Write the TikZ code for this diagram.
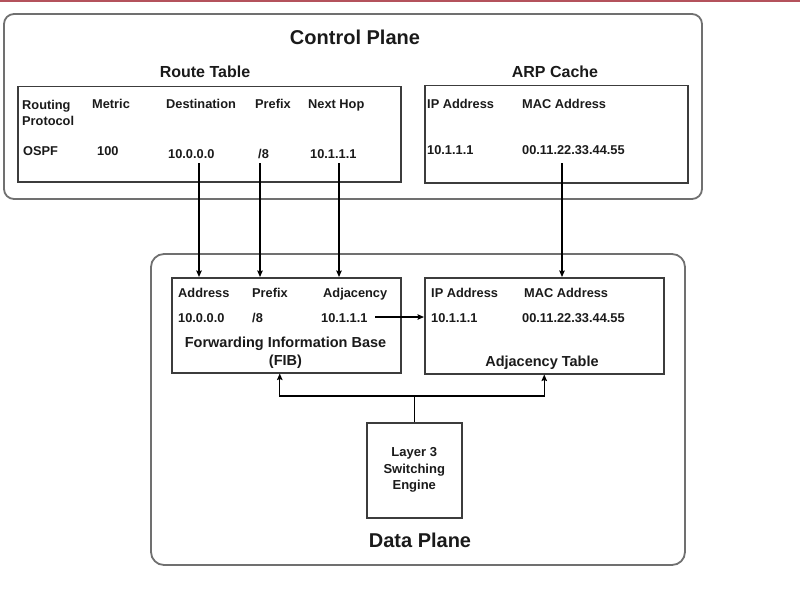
\documentclass[tikz,border=0pt]{standalone}
\usepackage{fontspec}
\setmainfont{Liberation Sans}
\usetikzlibrary{arrows.meta}
\definecolor{topred}{HTML}{B4525C}
\definecolor{planegray}{HTML}{707070}
\definecolor{boxgray}{HTML}{3C3C3C}
\definecolor{txtcol}{HTML}{1A1A1A}
\begin{document}
\begin{tikzpicture}[x=1pt,y=-1pt,
 plane/.style={draw=planegray, line width=1.8pt},
 tbox/.style={draw=boxgray, line width=1.5pt, inner sep=0pt, anchor=north west},
 txt/.style={font=\bfseries\fontsize{12.8}{16}\selectfont, text=txtcol, inner sep=0pt, anchor=base west},
 mid/.style={font=\bfseries\fontsize{14.5}{18}\selectfont, text=txtcol, inner sep=0pt, anchor=base},
 sub/.style={font=\bfseries\fontsize{16}{19}\selectfont, text=txtcol, inner sep=0pt, anchor=base},
 big/.style={font=\bfseries\fontsize{20}{24}\selectfont, text=txtcol, inner sep=0pt, anchor=base},
 arr/.style={draw=black, line width=1.3pt, -{Stealth[length=6.5pt,width=5.5pt,inset=1pt]}},
 ln/.style={draw=black, line width=1.3pt}
]
\useasboundingbox (0,0) rectangle (800,599);
\fill[topred] (0,0) rectangle (800,1.6);

% planes
\draw[plane, rounded corners=10pt] (4,14) rectangle (702,199);
\draw[plane, rounded corners=13pt] (151,254) rectangle (685,565);
\node[big] (cp) at (355,45) {Control Plane};
\node[big] (dp) at (420,547) {Data Plane};

% route table
\node[tbox, minimum width=383pt, minimum height=95pt] (rt) at (17,86) {};
\node[sub] (rtt) at (205,78) {Route Table};
\node[txt, anchor=north west, align=left] (h1) at (22,100) {Routing\\Protocol};
\node[txt] (h2) at (92,109) {Metric};
\node[txt] (h3) at (166,109) {Destination};
\node[txt] (h4) at (255,109) {Prefix};
\node[txt] (h5) at (308,109) {Next Hop};
\node[txt] (r1) at (23,155) {OSPF};
\node[txt] (r2) at (97,155) {100};
\node[txt] (r3) at (168,158) {10.0.0.0};
\node[txt] (r4) at (258,158) {/8};
\node[txt] (r5) at (310,158) {10.1.1.1};

% ARP cache
\node[tbox, minimum width=263pt, minimum height=97pt] (arp) at (424,85) {};
\node[sub] (arpt) at (555,78) {ARP Cache};
\node[txt] (a1) at (427,109) {IP Address};
\node[txt] (a2) at (522,109) {MAC Address};
\node[txt] (a3) at (427,154) {10.1.1.1};
\node[txt] (a4) at (522,154) {00.11.22.33.44.55};

% FIB
\node[tbox, minimum width=229pt, minimum height=95pt] (fib) at (171,277) {};
\node[txt] (f1) at (178,297) {Address};
\node[txt] (f2) at (252,297) {Prefix};
\node[txt] (f3) at (323,297) {Adjacency};
\node[txt] (f4) at (178,322) {10.0.0.0};
\node[txt] (f5) at (252,322) {/8};
\node[txt] (f6) at (321,322) {10.1.1.1};
\node[mid, anchor=north, align=center] (fibt) at (285.5,336.5) {Forwarding Information Base\\(FIB)};

% Adjacency table
\node[tbox, minimum width=239pt, minimum height=96pt] (adj) at (424,277) {};
\node[txt] (d1) at (431,297) {IP Address};
\node[txt] (d2) at (524,297) {MAC Address};
\node[txt] (d3) at (431,322) {10.1.1.1};
\node[txt] (d4) at (522,322) {00.11.22.33.44.55};
\node[mid] (adjt) at (542,366) {Adjacency Table};

% Layer 3 engine
\node[tbox, minimum width=95pt, minimum height=95pt, align=center,
      font=\bfseries\fontsize{13}{16.5}\selectfont, text=txtcol] (l3) at (366,422)
      {Layer 3\\Switching\\Engine};

% connectors
\coordinate (v1) at (199,163);
\coordinate (v2) at (260,163);
\coordinate (v3) at (339,163);
\coordinate (v4) at (562,163);
\draw[arr] (v1) -- (v1 |- fib.north);
\draw[arr] (v2) -- (v2 |- fib.north);
\draw[arr] (v3) -- (v3 |- fib.north);
\draw[arr] (v4) -- (v4 |- adj.north);

\coordinate (hs) at (375,317);
\draw[arr] (hs) -- (hs -| adj.west);

\coordinate (busy) at (0,396);
\coordinate (bus) at (l3.north |- busy);
\draw[ln] (l3.north) -- (bus);
\draw[arr] (bus) -| ([xshift=-6.5pt]fib.south);
\draw[arr] (bus) -| (adj.south);
\end{tikzpicture}
\end{document}
